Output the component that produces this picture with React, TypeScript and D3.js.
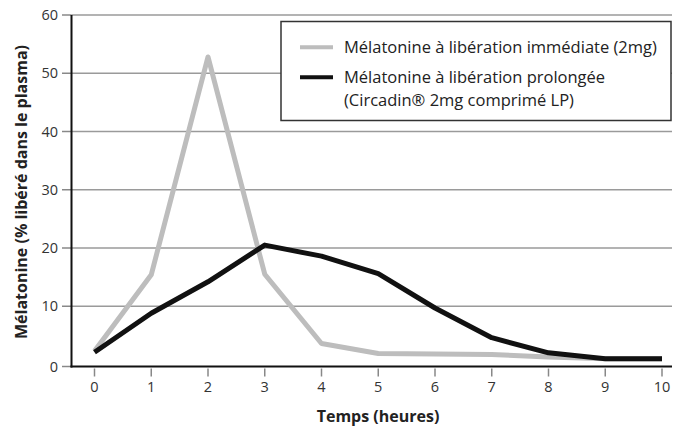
import React from "react";
import * as d3 from "d3";

const hours = [0, 1, 2, 3, 4, 5, 6, 7, 8, 9, 10];
const immediate = [2.3, 15.4, 52.8, 15.5, 3.6, 1.9, 1.8, 1.7, 1.3, 1.0, 1.0];
const prolonged = [2.1, 8.8, 14.2, 20.5, 18.6, 15.6, 9.7, 4.6, 2.0, 1.0, 1.0];
const yTicks = [0, 10, 20, 30, 40, 50, 60];
const seriesNames = [
  ["Mélatonine à libération immédiate (2mg)"],
  ["Mélatonine à libération prolongée", "(Circadin® 2mg comprimé LP)"],
];
const seriesColors = ["#bdbdbd", "#111111"];

export default function App() {
  const W = 673, H = 430;
  const x = d3.scaleLinear().domain([0, 10]).range([94.5, 662]);
  const y = d3.scaleLinear().domain([0, 60]).range([364.5, 15]);
  const line = d3
    .line<number>()
    .x((_, i) => x(hours[i]))
    .y((d) => y(d));
  const font = "'Open Sans', 'Noto Sans', sans-serif";
  const axisY = 366.5;
  const axisX = 71.5;
  return (
    <svg width={W} height={H} style={{ position: "absolute", left: 0, top: 0 }} fontFamily={font}>
      <rect width={W} height={H} fill="#fff" />
      {yTicks.map((t) =>
        t === 0 ? null : (
          <line key={"g" + t} x1={axisX} x2={672} y1={y(t)} y2={y(t)} stroke="#9a9a9a" strokeWidth={1.5} />
        )
      )}
      {yTicks.map((t) => (
        <g key={"yt" + t}>
          <line x1={62} x2={axisX} y1={t === 0 ? axisY : y(t)} y2={t === 0 ? axisY : y(t)} stroke="#888" strokeWidth={1.5} />
          <text x={58} y={(t === 0 ? axisY : y(t)) + 5} textAnchor="end" fontSize={14.5} fill="#333">
            {t}
          </text>
        </g>
      ))}
      {hours.map((h) => (
        <g key={"xt" + h}>
          <line x1={x(h)} x2={x(h)} y1={axisY + 2} y2={axisY + 10} stroke="#888" strokeWidth={1.5} />
          <text x={x(h)} y={392} textAnchor="middle" fontSize={14.5} fill="#333">
            {h}
          </text>
        </g>
      ))}
      <line x1={axisX} x2={axisX} y1={15} y2={axisY + 1} stroke="#111" strokeWidth={2} />
      <line x1={axisX - 1} x2={672} y1={axisY} y2={axisY} stroke="#111" strokeWidth={2} />
      <path d={line(immediate) || ""} fill="none" stroke={seriesColors[0]} strokeWidth={5} strokeLinejoin="round" />
      <path d={line(prolonged) || ""} fill="none" stroke={seriesColors[1]} strokeWidth={5} strokeLinejoin="round" />
      <g>
        <rect x={281} y={21.5} width={390} height={99} fill="#fff" stroke="#333" strokeWidth={1.5} />
        {seriesNames.map((lines, i) => {
          const ly = i === 0 ? 47.3 : 77.3;
          return (
            <g key={"lg" + i}>
              <line x1={300} x2={333} y1={ly} y2={ly} stroke={seriesColors[i]} strokeWidth={4} />
              {lines.map((s, j) => (
                <text key={j} x={344} y={ly + 6 + j * 22.5} fontSize={16.5} fill="#222">
                  {s}
                </text>
              ))}
            </g>
          );
        })}
      </g>
      <text
        transform={`translate(27, 192) rotate(-90)`}
        textAnchor="middle"
        fontSize={16}
        fontWeight="bold"
        fill="#222"
      >
        Mélatonine (% libéré dans le plasma)
      </text>
      <text x={378} y={422} textAnchor="middle" fontSize={16} fontWeight="bold" fill="#222">
        Temps (heures)
      </text>
    </svg>
  );
}
